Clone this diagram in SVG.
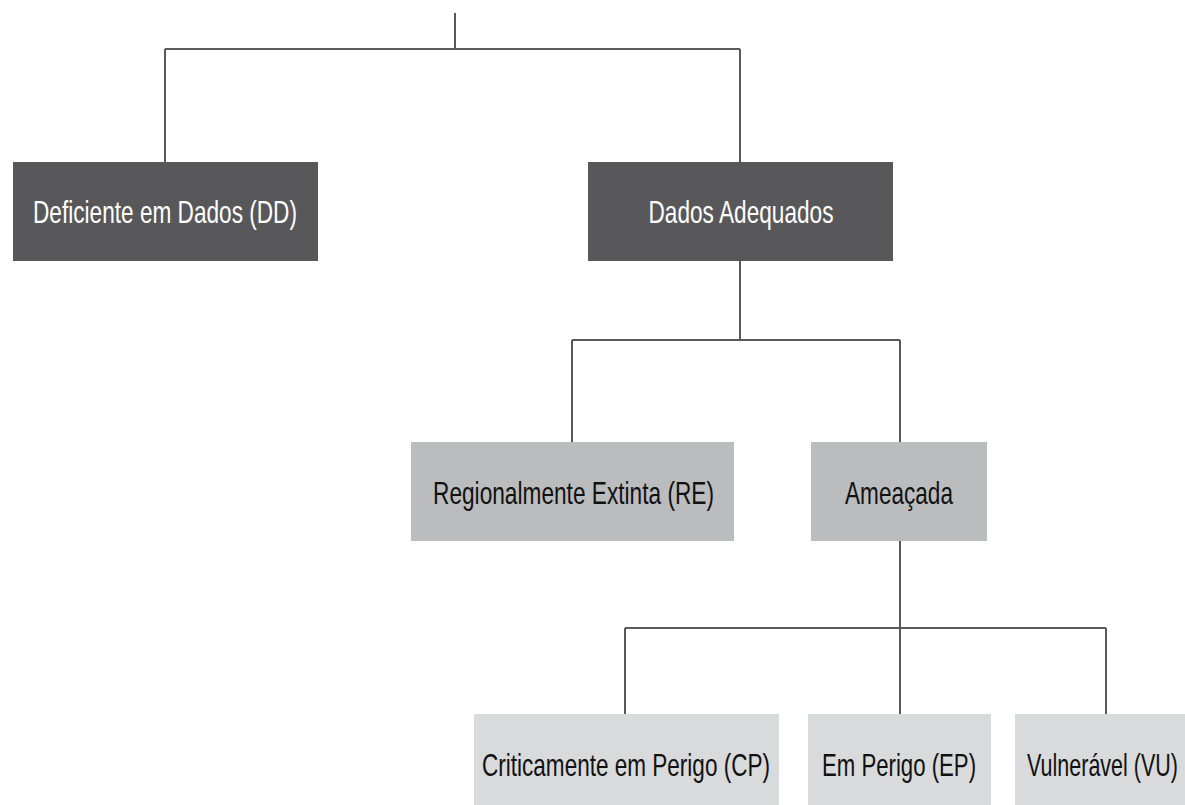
<svg xmlns="http://www.w3.org/2000/svg" width="1185" height="805" viewBox="0 0 1185 805">
<style>
.conn{fill:none;stroke:#59595b;stroke-width:2}
.dark{fill:#58585a}
.mid{fill:#bbbcbe}
.light{fill:#d9dadc}
text{font-family:"Liberation Sans",Arial,sans-serif;font-size:31px;text-anchor:middle}
.w{fill:#ffffff}
.b{fill:#111111}
</style>
<rect width="1185" height="805" fill="#ffffff"/>
<g id="connectors">
<path class="conn" d="M455,13V49M165,49H740M165,49V162M740,49V162"/>
<path class="conn" d="M740,261V340M572,340H900M572,340V442M900,340V442"/>
<path class="conn" d="M900,541V628M625,628H1106M625,628V714M900,628V714M1106,628V714"/>
</g>
<g id="dd">
<rect class="dark" x="13" y="162" width="305" height="99"/>
<text class="w" transform="translate(165,223) scale(0.73,1)" textLength="361.6" lengthAdjust="spacingAndGlyphs">Deficiente em Dados (DD)</text>
</g>
<g id="da">
<rect class="dark" x="588" y="162" width="305" height="99"/>
<text class="w" transform="translate(741,223) scale(0.73,1)" textLength="253.4" lengthAdjust="spacingAndGlyphs">Dados Adequados</text>
</g>
<g id="re">
<rect class="mid" x="411" y="442" width="323" height="99"/>
<text class="b" transform="translate(573.5,504) scale(0.73,1)" textLength="384.9" lengthAdjust="spacingAndGlyphs">Regionalmente Extinta (RE)</text>
</g>
<g id="ameacada">
<rect class="mid" x="811" y="442" width="176" height="99"/>
<text class="b" transform="translate(899,504) scale(0.73,1)" textLength="147.9" lengthAdjust="spacingAndGlyphs">Ameaçada</text>
</g>
<g id="cp">
<rect class="light" x="474" y="714" width="305" height="91"/>
<text class="b" transform="translate(626,776) scale(0.73,1)" textLength="394.5" lengthAdjust="spacingAndGlyphs">Criticamente em Perigo (CP)</text>
</g>
<g id="ep">
<rect class="light" x="808" y="714" width="183" height="91"/>
<text class="b" transform="translate(899,776) scale(0.73,1)" textLength="211" lengthAdjust="spacingAndGlyphs">Em Perigo (EP)</text>
</g>
<g id="vu">
<rect class="light" x="1015" y="714" width="170" height="91"/>
<text class="b" transform="translate(1102.5,776) scale(0.73,1)" textLength="206.8" lengthAdjust="spacingAndGlyphs">Vulnerável (VU)</text>
</g>
</svg>
